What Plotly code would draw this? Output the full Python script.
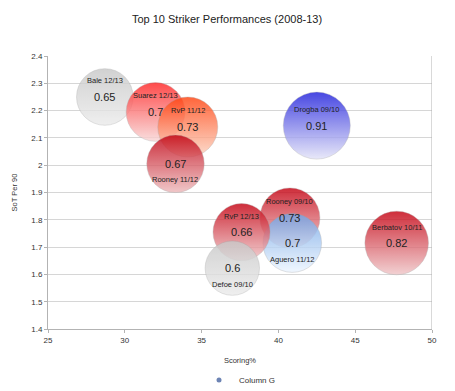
import plotly.graph_objects as go

names = ["Bale 12/13", "Suarez 12/13", "RvP 11/12", "Rooney 11/12", "Drogba 09/10",
         "Rooney 09/10", "Aguero 11/12", "Berbatov 10/11", "RvP 12/13", "Defoe 09/10"]
scoring = [28.7, 32.0, 34.1, 33.3, 42.5, 40.75, 40.9, 47.7, 37.6, 37.0]
sot_per_90 = [2.25, 2.195, 2.14, 2.005, 2.145, 1.807, 1.715, 1.715, 1.755, 1.623]
values = [0.65, 0.7, 0.73, 0.67, 0.91, 0.73, 0.7, 0.82, 0.66, 0.6]
value_labels = ["0.65", "0.7", "0.73", "0.67", "0.91", "0.73", "0.7", "0.82", "0.66", "0.6"]
name_above = [True, True, True, False, True, True, False, True, True, False]

colors = ["#c8c8c8", "#ff2424", "#ff4410", "#c00010", "#2020dc",
          "#c40010", "#70a4e6", "#c40010", "#c40010", "#c8c8c8"]
grad_colors = ["#ececec", "#f8d8d8", "#fcd6c4", "#eebcbe", "#e4e4f8",
               "#f0c4c6", "#eef6ff", "#f0c8ca", "#f0c8ca", "#ececec"]

max_diam = 67
sizeref = 2 * max(values) / (max_diam ** 2)

fig = go.Figure()
fig.add_trace(go.Scatter(
    x=scoring, y=sot_per_90, mode="markers", name="Column G",
    marker=dict(size=values, sizemode="area", sizeref=sizeref,
                color=colors, opacity=0.82,
                gradient=dict(type="vertical", color=grad_colors),
                line=dict(width=0.6, color="rgba(160,160,160,0.6)")),
    showlegend=False, hoverinfo="skip",
))
# legend entry
fig.add_trace(go.Scatter(
    x=[None], y=[None], mode="markers", name="Column G",
    marker=dict(size=5, color="#6d84b4"), showlegend=True, hoverinfo="skip",
))

annotations = []
for n, x, y, vl, above in zip(names, scoring, sot_per_90, value_labels, name_above):
    annotations.append(dict(x=x, y=y, text=vl, showarrow=False,
                            font=dict(family="Liberation Sans, Arial", size=11, color="#222222"),
                            yshift=0))
    annotations.append(dict(x=x, y=y, text=n, showarrow=False,
                            font=dict(family="Liberation Sans Narrow, Liberation Sans, Arial",
                                      size=7.5, color="#222222"),
                            yshift=16 if above else -16))

# the page body adds an 8px offset; the figure is sized to fill the rest of the window
fig.update_layout(
    width=447, height=383,
    margin=dict(l=40, r=23, t=48, b=62, autoexpand=False),
    paper_bgcolor="white", plot_bgcolor="white",
    title=dict(text="Top 10 Striker Performances (2008-13)", x=(227 - 8) / 447, xanchor="center",
               y=1 - 11 / 383, yanchor="middle", yref="container",
               font=dict(family="Liberation Sans, Arial", size=11, color="#222222")),
    font=dict(family="Liberation Sans, Arial", size=8, color="#333333"),
    xaxis=dict(range=[25, 50], dtick=5, showgrid=False, showline=True,
               linecolor="#b3b3b3", linewidth=1, mirror=False,
               ticks="outside", ticklen=3, tickcolor="#b3b3b3",
               zeroline=False, automargin=False,
               title=dict(text="Scoring%", font=dict(size=7.5), standoff=14)),
    yaxis=dict(range=[1.4, 2.4], dtick=0.1, tickformat="~g", showgrid=True,
               gridcolor="#d6d6d6", gridwidth=1, showline=True,
               linecolor="#b3b3b3", linewidth=1,
               ticks="outside", ticklen=3, tickcolor="#b3b3b3",
               zeroline=False, automargin=False,
               title=dict(text="SoT Per 90", font=dict(size=7.5), standoff=12)),
    legend=dict(orientation="h", x=0.5, xanchor="center", y=-0.187, yanchor="middle",
                font=dict(size=8), itemwidth=30),
    annotations=annotations,
    showlegend=True,
)
# right border line
fig.add_shape(type="line", xref="x", yref="paper", x0=50, x1=50, y0=0, y1=1,
              line=dict(color="#b3b3b3", width=1))

fig.write_html("out.html")
